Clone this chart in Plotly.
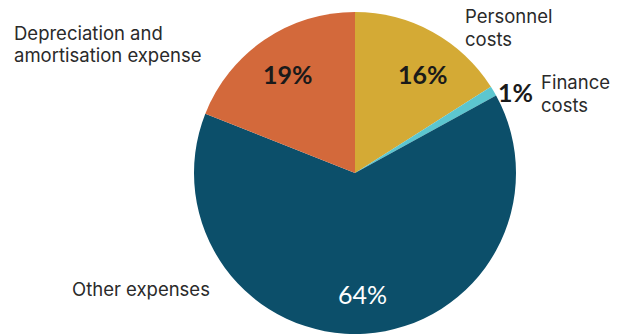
import plotly.graph_objects as go

labels = ["Personnel costs", "Finance costs", "Other expenses", "Depreciation and amortisation expense"]
values = [16, 1, 64, 19]
colors = ["#D4AA35", "#5CC6CF", "#0C4F6A", "#D3693B"]
pct_text = ["16%", "1%", "64%", "19%"]
pct_colors = ["#1a1a1a", "#1a1a1a", "#ffffff", "#1a1a1a"]
pct_bold = [True, True, False, True]
outer_lines = [["Personnel", "costs"], ["Finance", "costs"], ["Other expenses"],
               ["Depreciation and", "amortisation expense"]]

W, H = 628, 336
cx, cy, r = 355, 173, 161  # pixel geometry of the pie (cy from top)

fig = go.Figure(go.Pie(
    labels=labels, values=values, sort=False, direction="clockwise", rotation=0,
    marker=dict(colors=colors, line=dict(width=0)),
    textinfo="none", hoverinfo="label+percent", showlegend=False,
    domain=dict(x=[(cx - r) / W, (cx + r) / W], y=[(H - cy - r) / H, (H - cy + r) / H]),
))

# label placement (pixels from top-left)
pct_pos = [(423, 74), (515, 92), (362, 294), (288, 74)]
outer_pos = [(464, [16, 38.5], "left"), (540, [82, 104.5], "left"), (211, [289], "right"),
             (13, [33, 55.5], "left")]

annotations = []
for t, c, b, (px, py) in zip(pct_text, pct_colors, pct_bold, pct_pos):
    annotations.append(dict(x=px / W, y=1 - py / H, xref="paper", yref="paper",
                            text=("<b>%s</b>" % t) if b else t, borderpad=0,
                            showarrow=False, font=dict(family="Lato", size=25, color=c),
                            xanchor="center", yanchor="middle"))

for lines, (px, ys, al) in zip(outer_lines, outer_pos):
    for t, py in zip(lines, ys):
        annotations.append(dict(x=px / W, y=1 - py / H, xref="paper", yref="paper", text=t,
                                showarrow=False, xanchor=al, yanchor="middle", borderpad=0,
                                font=dict(family="Inter", size=18.5, color="#2a2a2a")))

fig.update_layout(width=W, height=H, margin=dict(l=0, r=0, t=0, b=0),
                  paper_bgcolor="white", plot_bgcolor="white", annotations=annotations)
fig.write_html("out.html")
